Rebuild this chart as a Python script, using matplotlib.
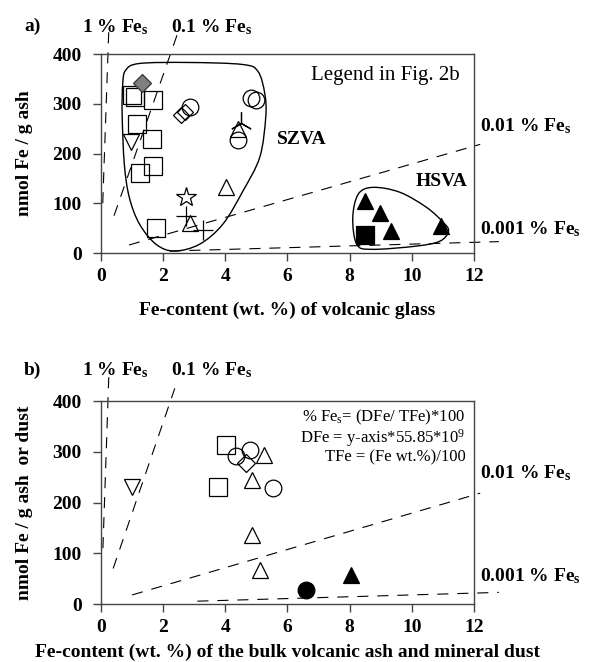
import numpy as np
import matplotlib
matplotlib.use("Agg")
import matplotlib.pyplot as plt
from matplotlib.path import Path
from matplotlib.patches import PathPatch

plt.rcParams['font.family'] = ['Liberation Serif', 'DejaVu Serif']
plt.rcParams['mathtext.fontset'] = 'custom'
plt.rcParams['mathtext.rm'] = 'Liberation Serif'
plt.rcParams['mathtext.bf'] = 'Liberation Serif:bold'
plt.rcParams['mathtext.it'] = 'Liberation Serif:italic'

# ---------------- data ----------------
x_ticks = [0, 2, 4, 6, 8, 10, 12]
y_ticks = [0, 100, 200, 300, 400]
fes_levels = [1, 0.1, 0.01, 0.001]          # % Fe_s reference lines
fes_labels = ["1 % Fe$_\\mathbf{s}$", "0.1 % Fe$_\\mathbf{s}$",
              "0.01 % Fe$_\\mathbf{s}$", "0.001 % Fe$_\\mathbf{s}$"]
FACTOR = 55.85e-9 * 100 * 100   # %Fes = y*FACTOR/x

# panel a (volcanic glass)
a_sq_x = [1.00, 1.08, 1.67, 1.15, 1.64, 1.67, 1.24, 1.77]
a_sq_y = [318, 314, 307, 260, 230, 174, 161, 50]
a_dtri_x = [0.97]
a_dtri_y = [223]
a_diam_x = [2.58, 2.70]
a_diam_y = [277, 284]
a_circ_x = [2.86, 4.84, 5.00, 4.41]
a_circ_y = [293, 312, 307, 228]
a_tri_x = [4.41, 4.01, 2.86]
a_tri_y = [250, 132, 60]
a_star_x = [2.74]
a_star_y = [112]
a_plus_x = [2.74, 3.28]
a_plus_y = [75, 46]
a_ast_x = [4.52]
a_ast_y = [262]
a_gdiam_x = [1.31]
a_gdiam_y = [341]
a_ftri_x = [8.49, 8.98, 9.32, 10.94]
a_ftri_y = [105, 81, 44, 54]
a_fsq_x = [8.49]
a_fsq_y = [36]

# group outlines (control points)
szva_x = [0.80, 1.24, 2.80, 4.55, 5.05, 5.27, 5.30, 5.11, 4.57, 3.92, 3.17, 2.36, 1.77, 1.24, 0.91, 0.75, 0.68, 0.70]
szva_y = [368, 381, 383, 379, 365, 320, 273, 193, 125, 58, 17.6, 4, 17.6, 58, 112, 179, 280, 341]
hsva_x = [8.76, 9.62, 10.48, 11.02, 11.18, 10.91, 10.16, 8.71, 8.23, 8.10, 8.28]
hsva_y = [132, 122, 91.5, 61, 44, 24, 14, 7.4, 17.5, 71, 118.6]

# panel b (bulk ash and dust)
b_dtri_x = [1.0]
b_dtri_y = [231]
b_sq_x = [4.03, 3.76]
b_sq_y = [313, 231]
b_circ_x = [4.35, 4.78, 5.54]
b_circ_y = [291, 304, 228]
b_diam_x = [4.68]
b_diam_y = [277]
b_tri_x = [5.24, 4.87, 4.86, 5.11]
b_tri_y = [293, 245, 136, 67]
b_fcirc_x = [6.6]
b_fcirc_y = [27]
b_ftri_x = [8.05]
b_ftri_y = [57]

# ---------------- helpers ----------------
def smooth_closed(ax, xs, ys):
    P = np.column_stack([xs, ys])
    n = len(P)
    verts = [P[0]]
    codes = [Path.MOVETO]
    for i in range(n):
        p0, p1, p2, p3 = P[i - 1], P[i], P[(i + 1) % n], P[(i + 2) % n]
        c1 = p1 + (p2 - p0) / 6.0
        c2 = p2 - (p3 - p1) / 6.0
        verts += [c1, c2, p2]
        codes += [Path.CURVE4] * 3
    ax.add_patch(PathPatch(Path(verts, codes), fc='none', ec='black', lw=1.0, zorder=2))

def fes_line(ax, level, lo, hi, steep):
    if steep:
        y = np.array([lo, hi])
        x = y * FACTOR / level
    else:
        x = np.array([lo, hi])
        y = level * x / FACTOR
    ax.plot(x, y, color='black', lw=0.8, ls=(0, (10, 8)), clip_on=False, zorder=1)

def style_axes(ax, xlabel, ylabel, xpad):
    ax.set_xlim(0, 12)
    ax.set_ylim(0, 400)
    ax.set_xticks(x_ticks)
    ax.set_yticks(y_ticks)
    for s in ax.spines.values():
        s.set_color('#444444')
        s.set_linewidth(1.0)
    ax.tick_params(direction='out', length=6, width=1, color='#444444', labelsize=14, pad=5)
    ax.tick_params(axis='y', pad=8)
    for lab in ax.get_xticklabels() + ax.get_yticklabels():
        lab.set_fontweight('bold')
    ax.set_xlabel(xlabel, fontsize=14, fontweight='bold', labelpad=xpad)
    ax.set_ylabel(ylabel, fontsize=14, fontweight='bold', labelpad=14)

def mk(ax, x, y, marker, size, fc='none', ec='black', z=3):
    ax.plot(x, y, ls='none', marker=marker, ms=size, mfc=fc, mec=ec, mew=0.9, zorder=z)

fig = plt.figure(figsize=(5.91, 6.62), dpi=100)
axA = fig.add_axes([0.1709, 0.6178, 0.6311, 0.3006])
axB = fig.add_axes([0.1709, 0.0876, 0.6311, 0.3066])

# ---------------- panel a ----------------
fes_line(axA, fes_levels[0], 100, 450, True)
fes_line(axA, fes_levels[1], 75, 440, True)
fes_line(axA, fes_levels[2], 0.9, 12.2, False)
fes_line(axA, fes_levels[3], 2.2, 12.8, False)
smooth_closed(axA, szva_x, szva_y)
smooth_closed(axA, hsva_x, hsva_y)

mk(axA, a_sq_x, a_sq_y, 's', 13)
mk(axA, a_dtri_x, a_dtri_y, 'v', 11)
mk(axA, a_diam_x, a_diam_y, 'D', 8)
mk(axA, a_circ_x, a_circ_y, 'o', 12)
mk(axA, a_tri_x, a_tri_y, '^', 12)
mk(axA, a_star_x, a_star_y, '*', 15)
mk(axA, a_plus_x, a_plus_y, '+', 14)
mk(axA, a_ast_x, a_ast_y, (3, 2, 0), 16)
mk(axA, a_gdiam_x, a_gdiam_y, 'D', 9, fc='#808080', ec='#333333')
mk(axA, a_ftri_x, a_ftri_y, '^', 12, fc='black')
mk(axA, a_fsq_x, a_fsq_y, 's', 13, fc='black')

axA.text(11.55, 357, "Legend in Fig. 2b", fontsize=15, ha='right', va='center')
axA.text(6.45, 229, "SZVA", fontsize=14, fontweight='bold', ha='center', va='center')
axA.text(10.96, 143, "HSVA", fontsize=14, fontweight='bold', ha='center', va='center')

style_axes(axA, "Fe-content (wt. %) of volcanic glass", "nmol Fe / g ash", 12)

# ---------------- panel b ----------------
fes_line(axB, fes_levels[0], 110, 450, True)
fes_line(axB, fes_levels[1], 70, 425, True)
fes_line(axB, fes_levels[2], 1.0, 12.2, False)
fes_line(axB, fes_levels[3], 3.1, 12.8, False)

mk(axB, b_dtri_x, b_dtri_y, 'v', 11)
mk(axB, b_sq_x, b_sq_y, 's', 13)
mk(axB, b_circ_x, b_circ_y, 'o', 12)
mk(axB, b_diam_x, b_diam_y, 'D', 9)
mk(axB, b_tri_x, b_tri_y, '^', 12)
mk(axB, b_fcirc_x, b_fcirc_y, 'o', 12, fc='black')
mk(axB, b_ftri_x, b_ftri_y, '^', 12, fc='black')

axB.text(11.72, 368, "% Fe$_\\mathrm{s}$= (DFe/ TFe)*100", fontsize=12, ha='right', va='center')
axB.text(11.72, 328, "DFe = y-axis*55.85*10$^\\mathrm{9}$", fontsize=12, ha='right', va='center')
axB.text(11.72, 289, "TFe = (Fe wt.%)/100", fontsize=12, ha='right', va='center')

style_axes(axB, "Fe-content (wt. %) of the bulk volcanic ash and mineral dust",
           "nmol Fe / g ash  or dust", 5)

# ---------------- line labels & panel labels ----------------
for ax, ytop, y01, y001, lab in [(axA, 455, 256, 48, "a)"), (axB, 460, 258, 55, "b)")]:
    ax.text(-0.62, ytop, fes_labels[0], fontsize=14, fontweight='bold', ha='left', va='center', clip_on=False)
    ax.text(2.26, ytop, fes_labels[1], fontsize=14, fontweight='bold', ha='left', va='center', clip_on=False)
    ax.text(12.2, y01, fes_labels[2], fontsize=14, fontweight='bold', ha='left', va='center', clip_on=False)
    ax.text(12.2, y001, fes_labels[3], fontsize=14, fontweight='bold', ha='left', va='center', clip_on=False)
    ax.text(-2.2, ytop, lab, fontsize=14, fontweight='bold', ha='center', va='center', clip_on=False)

fig.savefig("out.png", dpi=100)
